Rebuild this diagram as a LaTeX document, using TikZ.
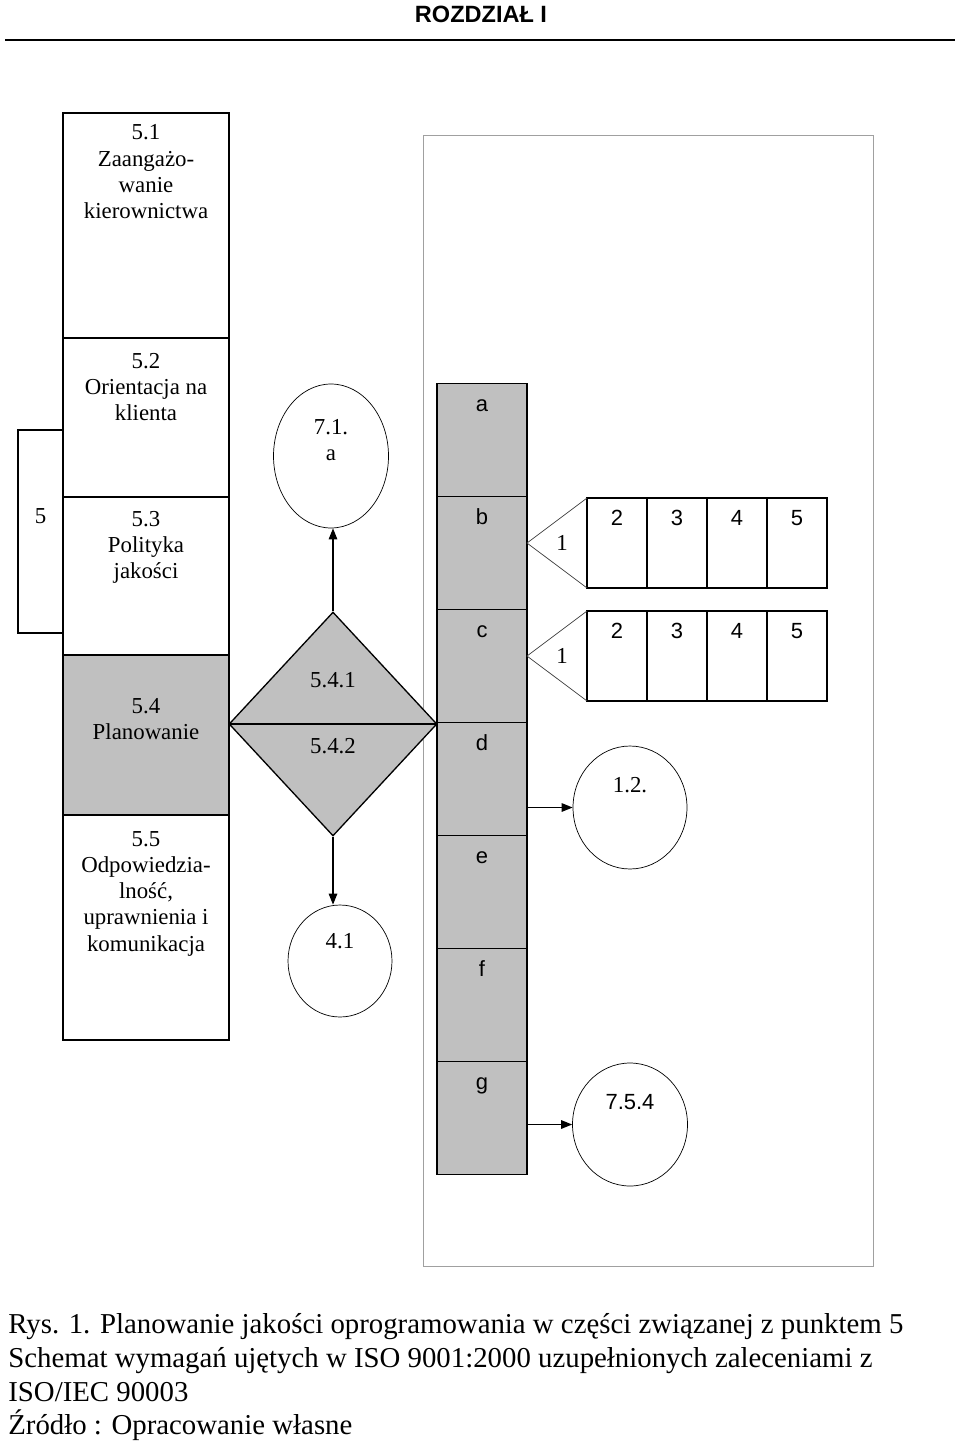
\documentclass[tikz,border=0pt]{standalone}
\usepackage{fontspec}
\setmainfont{Liberation Serif}
\setsansfont{Liberation Sans}
\usepackage{tikz}
\usetikzlibrary{positioning, chains, shapes.geometric}
\usetikzlibrary{arrows.meta}
\tikzset{>={Triangle[width=1.7mm,length=2.2mm]}}
\definecolor{silver}{HTML}{C0C0C0}
\definecolor{framegray}{HTML}{A0A0A0}

\begin{document}
\begin{tikzpicture}[
    x = 0.02cm, y = -0.02cm,
    node distance = 0mm,
    every node/.style = {font=\fontsize{13}{14.9}\selectfont},
    box/.style = {draw, line width=0.75pt, minimum width=3.32cm, outer sep=0mm},
    lbl/.style = {anchor=north, align=center, inner sep=0pt},
    sbl/.style = {anchor=base, inner sep=0pt,
        font=\sffamily\fontsize{12.5}{14.9}\selectfont},
    greycell/.style = {draw, line width=0.75pt, fill=silver, minimum width=1.8cm,
        minimum height=2.26cm, outer sep=0mm, on chain},
    cell/.style = {draw, line width=0.75pt, minimum width=1.2cm,
        minimum height=1.8cm, outer sep=0mm, on chain},
    bubble/.style = {ellipse, draw, thin, inner sep=0pt},
    caption/.style = {anchor=base west, inner sep=0pt,
        font=\fontsize{16.4}{19}\selectfont}
  ]
  \useasboundingbox (0,0) rectangle (960,1443);

  \node[font=\sffamily\bfseries\fontsize{13.4}{15}\selectfont] (title) at (481,14) {ROZDZIAŁ I};
  \draw[line width=0.85pt] (5,40) -- (955,40);

  \node[draw=framegray, minimum width=9cm, minimum height=22.62cm] (frame) at (648,700.5) {};

  \node[box, minimum height=4.5cm,
    label={[lbl, yshift=-0.23cm]north:{5.1\\Zaangażo-\\wanie\\kierownictwa}}] (k51) at (146,225.5) {};
  \node[box, minimum height=3.18cm,
    label={[lbl, yshift=-0.3cm]north:{5.2\\Orientacja na\\klienta}}] (k52) at (146,417.5) {};
  \node[box, minimum height=3.16cm,
    label={[lbl, yshift=-0.28cm]north:{5.3\\Polityka\\jakości}}] (k53) at (146,576) {};
  \node[box, minimum height=3.2cm, fill=silver,
    label={[lbl, yshift=-0.86cm]north:{5.4\\Planowanie}}] (k54) at (146,735) {};
  \node[box, minimum height=4.5cm,
    label={[lbl, yshift=-0.32cm]north:{5.5\\Odpowiedzia-\\lność,\\uprawnienia i\\komunikacja}}] (k55) at (146,927.5) {};
  \node[box, minimum width=0.9cm, minimum height=4.06cm,
    label={[lbl, yshift=-1.56cm]north:5}] (k5) at (40.5,531.5) {};

  \node[diamond, draw, line width=0.75pt, fill=silver, minimum width=4.16cm,
    minimum height=4.48cm, inner sep=0pt] (dia) at (333,724) {};
  \draw[line width=0.75pt] (dia.west) -- (dia.east);
  \node (d541) at (333,680) {5.4.1};
  \node (d542) at (333,746) {5.4.2};

  \node[bubble, minimum width=2.3cm, minimum height=2.88cm,
    label={[lbl, yshift=-0.7cm]north:{7.1.\\a}}] (c71) at (331,456) {};
  \node[bubble, minimum width=2.08cm, minimum height=2.24cm,
    label={[lbl, yshift=-0.56cm]north:4.1}] (c41) at (340,961) {};
  \node[bubble, minimum width=2.28cm, minimum height=2.46cm,
    label={[lbl, yshift=-0.62cm]north:1.2.}] (c12) at (630,807.5) {};
  \node[bubble, minimum width=2.3cm, minimum height=2.46cm,
    label={[lbl, yshift=-0.62cm, font=\sffamily\fontsize{12.5}{14.9}\selectfont]north:7.5.4}] (c754) at (630,1124.5) {};

  \begin{scope}[shift={(482,440)}, start chain=going below]
    \foreach \l in {a,b,c,d,e,f,g}
      \node[greycell, label={[sbl, yshift=-0.56cm]north:\l}] (g\l) {};
  \end{scope}

  \foreach \r/\y in {b/543, c/656} {
    \begin{scope}[shift={(617,\y)}, start chain=going right]
      \foreach \k in {2,...,5}
        \node[cell, label={[sbl, yshift=-0.54cm]north:\k}] (\r\k) {};
    \end{scope}
    \draw[thin, black!75] (\r2.north west) -- (g\r.east |- \r2.west) -- (\r2.south west);
    \node (\r1) at (562,\y) {1};
  }

  \draw[->, line width=0.75pt] (dia.north) -- (dia.north |- c71.south);
  \draw[->, line width=0.75pt] (dia.south) -- (dia.south |- c41.north);
  \draw[->, line width=0.75pt] (gd.east |- c12.west) -- (c12.west);
  \draw[->, line width=0.75pt] (gg.east |- c754.west) -- (c754.west);

  \node[caption] (cap1) at (8,1333) {Rys. 1. Planowanie jakości oprogramowania w części związanej z punktem 5};
  \node[caption] (cap2) at (8,1367) {Schemat wymagań ujętych w ISO 9001:2000 uzupełnionych zaleceniami z};
  \node[caption] (cap3) at (8,1401) {ISO/IEC 90003};
  \node[caption] (cap4) at (8,1434) {Źródło : Opracowanie własne};
\end{tikzpicture}
\end{document}
